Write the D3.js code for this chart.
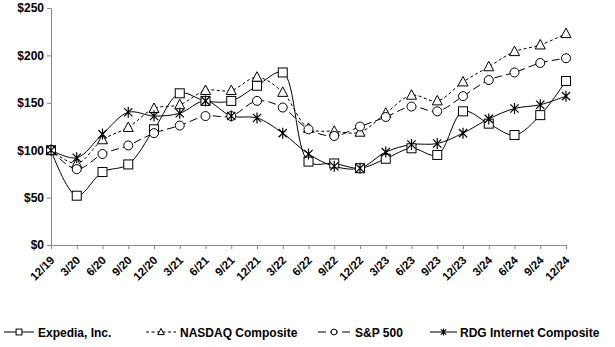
<!DOCTYPE html>
<html><head><meta charset="utf-8">
<script src="https://cdn.jsdelivr.net/npm/d3@7"></script>
<style>body{margin:0;background:#fff}svg{display:block}text{font-family:"Liberation Sans",Arial,sans-serif;font-weight:bold;font-size:12px;fill:#000}</style>
</head><body><svg id="c" width="615" height="347"></svg>
<script>
const quarters=["12/19","3/20","6/20","9/20","12/20","3/21","6/21","9/21","12/21","3/22","6/22","9/22","12/22","3/23","6/23","9/23","12/23","3/24","6/24","9/24","12/24"];
const expedia=[100,52,77,85,122,160,152,152,168,182,88,86,81,91,102,95,141,128,116,137,173];
const nasdaq=[100,86,111,124,144,148,163,163,177,161,123,120,119,139,158,152,172,188,204,211,223];
const sp500=[100,80,96,105,118,126,136,136,152,145,122,115,125,135,146,141,157,174,182,192,197];
const rdg=[100,92,117,140,136,139,152,136,134,118,96,83,81,98,106,107,118,133,144,148,157];
const yTicks=[0,50,100,150,200,250];
const seriesNames=["Expedia, Inc.","NASDAQ Composite","S&P 500","RDG Internet Composite"];

const svg=d3.select("#c");
const x=d3.scalePoint().domain(quarters).range([51,566]);
const y=d3.scaleLinear().domain([0,250]).range([245,8]);

const font="Liberation Sans, Arial, sans-serif";
// axes
const ya=svg.append("g").attr("transform","translate(51,0)").call(d3.axisLeft(y).tickValues(yTicks).tickFormat(d=>"$"+d).tickSize(4));
ya.select(".domain").attr("stroke","#888");
ya.selectAll(".tick line").attr("stroke","#888");
ya.selectAll("text").attr("x",-7).style("font-size","12px").style("font-family",font).style("font-weight","bold").attr("fill","#000");
const xa=svg.append("g").attr("transform","translate(0,245)").call(d3.axisBottom(x).tickSize(4).tickSizeOuter(0));
xa.select(".domain").attr("stroke","#888");
xa.selectAll(".tick line").attr("stroke","#888");
xa.selectAll("text").attr("x",0).attr("y",0).attr("dy","0.35em").attr("text-anchor","end")
  .attr("transform","translate(1,13) rotate(-45)")
  .style("font-size","11.5px").style("font-family",font).style("font-weight","bold").attr("fill","#000");

const data=[expedia,nasdaq,sp500,rdg];
const dashes=[null,"3,2.5","8,4",null];
const line=d3.line().x((d,i)=>x(quarters[i])).y(d=>y(d)).curve(d3.curveCatmullRom.alpha(0.5));

function marker(g,type,cx,cy,s){
  s=s||1;
  if(type===0) g.append("rect").attr("x",cx-4.5*s).attr("y",cy-4.5*s).attr("width",9*s).attr("height",9*s).attr("fill","#fff").attr("stroke","#000").attr("stroke-width",1);
  else if(type===1) g.append("path").attr("d",`M${cx},${cy-5.5*s}L${cx+5*s},${cy+4*s}L${cx-5*s},${cy+4*s}Z`).attr("fill","#fff").attr("stroke","#000");
  else if(type===2) g.append("circle").attr("cx",cx).attr("cy",cy).attr("r",4.5*s).attr("fill","#fff").attr("stroke","#000");
  else {
    const r=5.5*s, a=r*0.75;
    g.append("path").attr("d",`M${cx-a},${cy-a}L${cx+a},${cy+a}M${cx-a},${cy+a}L${cx+a},${cy-a}M${cx},${cy-r}L${cx},${cy+r}`).attr("stroke","#000").attr("stroke-width",1.2);
  }
}

data.forEach((s,k)=>{
  svg.append("path").attr("d",line(s)).attr("fill","none").attr("stroke","#000").attr("stroke-width",1)
    .attr("stroke-dasharray",dashes[k]);
});
data.forEach((s,k)=>{
  const g=svg.append("g");
  s.forEach((v,i)=>marker(g,k,x(quarters[i]),y(v)));
});

// legend
const lx=[4,146,318,430], lx1=[34,176,350,457], tx=[38,180,355,460];
seriesNames.forEach((n,k)=>{
  const g=svg.append("g");
  g.append("line").attr("x1",lx[k]).attr("x2",lx1[k]).attr("y1",332).attr("y2",332).attr("stroke","#000").attr("stroke-dasharray",dashes[k]);
  marker(g,k,(lx[k]+lx1[k])/2,332,0.65);
  g.append("text").attr("x",tx[k]).attr("y",336.5).text(n);
});
</script></body></html>
